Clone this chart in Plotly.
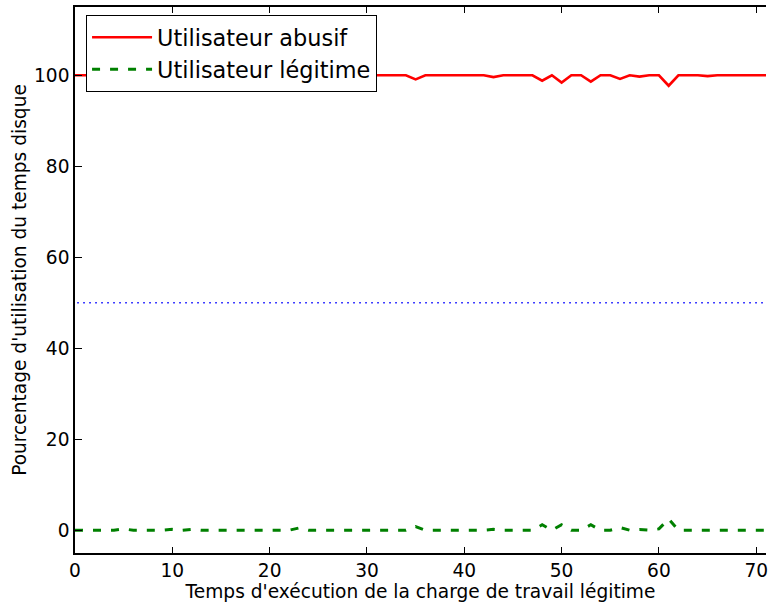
import plotly.graph_objects as go

x_vals = list(range(0, 73))

red_dips = {35: 99.1, 43: 99.6, 48: 98.8, 50: 98.4, 53: 98.6, 56: 99.2, 58: 99.7, 61: 97.7, 65: 99.8}
green_bumps = {5: 0.3, 10: 0.2, 12: 0.2, 17: 0.1, 23: 0.5, 35: 0.8, 43: 0.2, 48: 1.2, 50: 1.2,
               53: 1.2, 56: 0.6, 58: 0.15, 60: 0.3, 61: 2.5, 65: 0.1}

abusif = [red_dips.get(x, 100.0) for x in x_vals]
legitime = [green_bumps.get(x, 0.0) for x in x_vals]
reference_level = [50.0, 50.0]
reference_x = [-1, 80]

x_ticks = [0, 10, 20, 30, 40, 50, 60, 70]
y_ticks = [0, 20, 40, 60, 80, 100]

font = "DejaVu Sans"
fs = 18.6

fig = go.Figure()
fig.add_trace(go.Scatter(x=x_vals, y=abusif, mode="lines", name="Utilisateur abusif",
                         line=dict(color="#ff0000", width=2.6)))
fig.add_trace(go.Scatter(x=x_vals, y=legitime, mode="lines", name="Utilisateur légitime",
                         line=dict(color="#008000", width=3, dash="8px,10px")))
fig.add_trace(go.Scatter(x=reference_x, y=reference_level, mode="lines", showlegend=False,
                         line=dict(color="#0000ff", width=1.5, dash="1.5px,4.5px")))

fig.update_layout(
    width=768, height=602,
    margin=dict(l=75, r=0, t=7, b=49),
    paper_bgcolor="white", plot_bgcolor="white",
    font=dict(family=font, color="black", size=fs),
    showlegend=True,
    legend=dict(x=0.016, y=0.985, xanchor="left", yanchor="top",
                bordercolor="black", borderwidth=1, bgcolor="white",
                font=dict(size=22.4, family=font), tracegroupgap=0, itemwidth=60),
)
fig.update_xaxes(range=[0, 71], tickvals=x_ticks, ticks="inside", ticklen=6, tickwidth=1,
                 tickcolor="black", showline=True, linecolor="black", linewidth=1.5,
                 mirror="ticks", showgrid=False, zeroline=False, ticklabeloverflow="allow",
                 tickfont=dict(size=fs, family=font),
                 title=dict(text="Temps d'exécution de la charge de travail légitime",
                            font=dict(size=fs, family=font), standoff=3))
fig.update_yaxes(range=[-5, 115], tickvals=y_ticks, ticks="inside", ticklen=7, tickwidth=1,
                 tickcolor="black", showline=True, linecolor="black", linewidth=1.5,
                 mirror=False, showgrid=False, zeroline=False,
                 tickfont=dict(size=fs, family=font),
                 title=dict(text="Pourcentage d'utilisation du temps disque",
                            font=dict(size=fs, family=font), standoff=3))

fig.write_html("out.html", config={"displayModeBar": False},
               post_script="document.body.style.margin='0px';")
